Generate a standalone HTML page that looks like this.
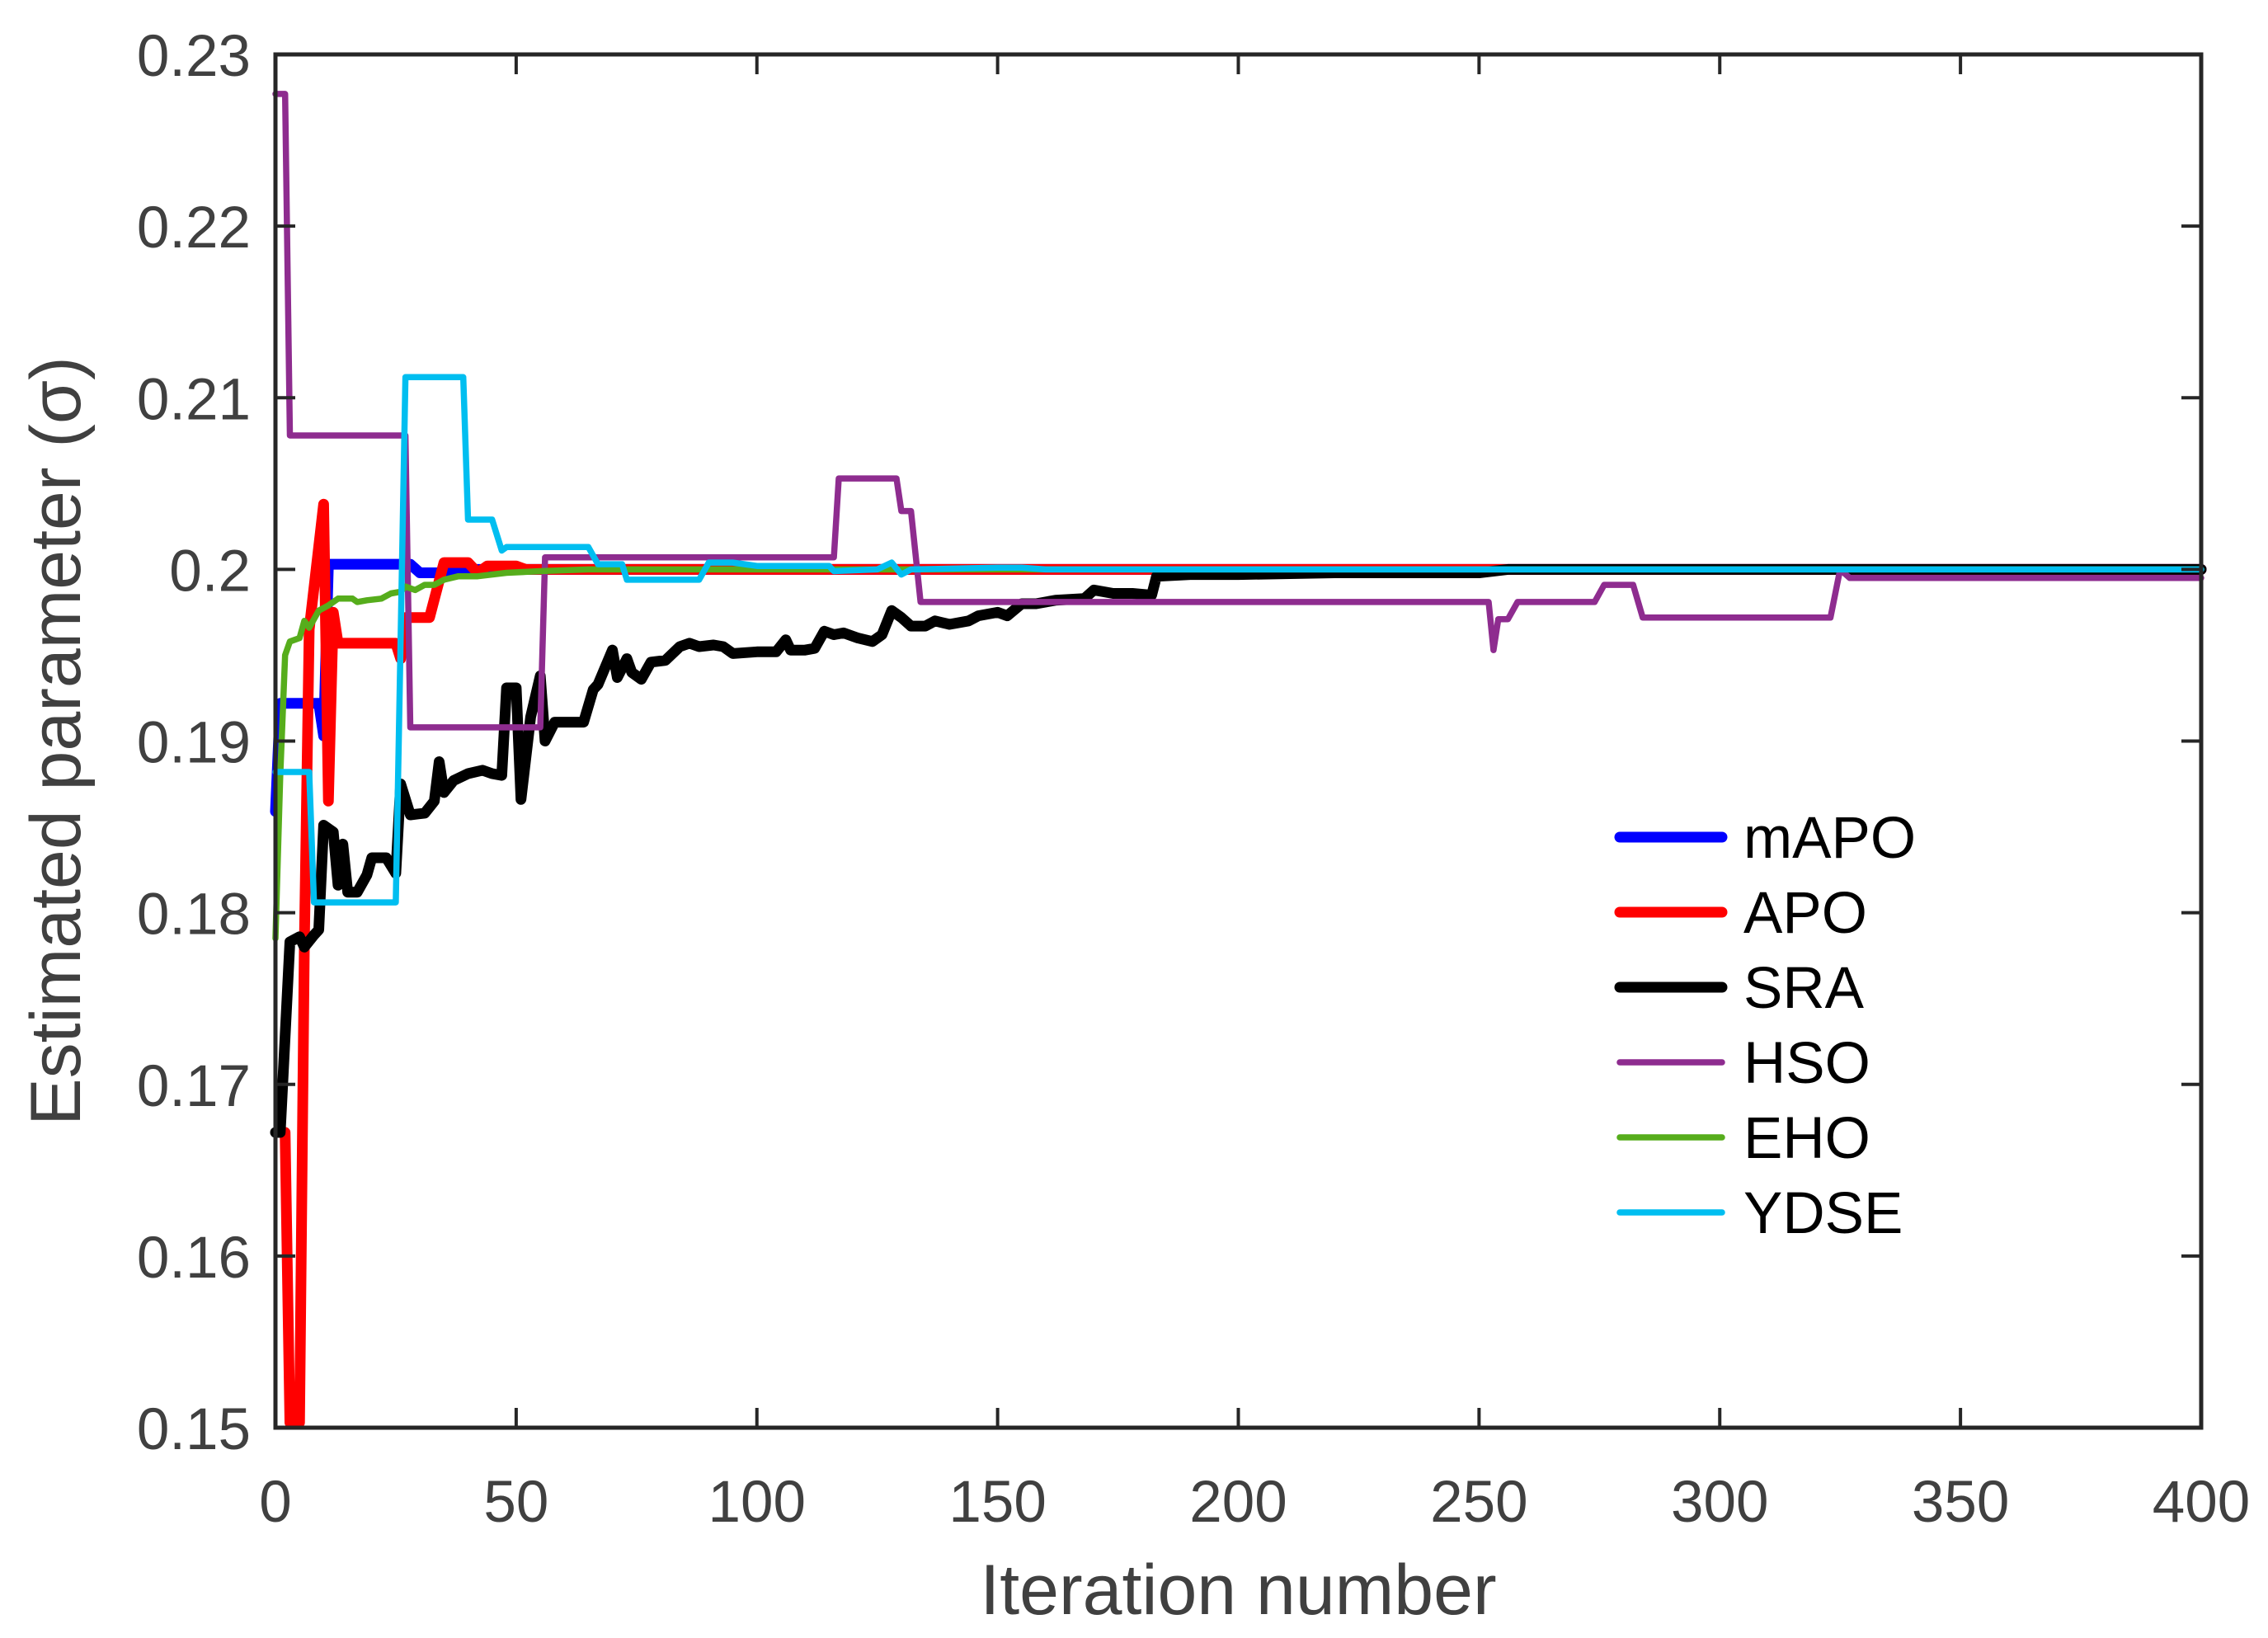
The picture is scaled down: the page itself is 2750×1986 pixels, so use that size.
<!DOCTYPE html>
<html><head><meta charset="utf-8"><style>
html,body{margin:0;padding:0;background:#fff;}
svg{display:block;font-family:"Liberation Sans",Arial,sans-serif;}
</style></head><body>
<svg id="chart" width="2750" height="1986" viewBox="0 0 2750 1986" xmlns="http://www.w3.org/2000/svg">
<rect x="0" y="0" width="2750" height="1986" fill="#fff"/>
<g id="series"></g>
<g id="axes"></g>
<g id="legend"></g>
</svg>
<script>
const xTicks = [0,50,100,150,200,250,300,350,400];
const yTicks = [0.15,0.16,0.17,0.18,0.19,0.2,0.21,0.22,0.23];
const yTickLabels = ["0.15","0.16","0.17","0.18","0.19","0.2","0.21","0.22","0.23"];
const seriesNames = ["mAPO","APO","SRA","HSO","EHO","YDSE"];

const mapoX = [0,1,9,10,11,28,30,38,40,400];
const mapoY = [0.1859,0.1922,0.1922,0.1903,0.2003,0.2003,0.1998,0.1998,0.2,0.2];

const apoX = [2,3,5,6,7,10,11,12,13,25,26,27,32,35,40,42,44,50,52,400];
const apoY = [0.1672,0.1503,0.1503,0.178,0.1965,0.2038,0.1865,0.1975,0.1957,0.1957,0.1948,0.1972,0.1972,0.2004,0.2004,0.1998,0.2002,0.2002,0.2,0.2];

const sraX = [0,1,3,5,6,8,9,10,12,13,14,15,17,19,20,23,25,26,28,31,33,34,35,37,40,43,45,47,48,50,51,53,55,56,58,64,66,67,70,71,73,74,76,78,81,84,86,88,91,93,95,100,104,106,107,110,112,114,116,118,121,124,126,128,130,132,135,137,140,144,146,150,152,155,158,162,168,170,174,178,182,183,190,200,220,250,256,400];
const sraY = [0.1672,0.1672,0.1783,0.1786,0.178,0.1787,0.179,0.1851,0.1847,0.1816,0.184,0.1812,0.1812,0.1822,0.1832,0.1832,0.1823,0.1875,0.1857,0.1858,0.1865,0.1888,0.187,0.1877,0.1881,0.1883,0.1881,0.188,0.1931,0.1931,0.1866,0.1914,0.1938,0.19,0.1911,0.1911,0.193,0.1933,0.1953,0.1937,0.1948,0.194,0.1936,0.1946,0.1947,0.1955,0.1957,0.1955,0.1956,0.1955,0.1951,0.1952,0.1952,0.1959,0.1953,0.1953,0.1954,0.1964,0.1962,0.1963,0.196,0.1958,0.1962,0.1976,0.1972,0.1967,0.1967,0.197,0.1968,0.197,0.1973,0.1975,0.1973,0.198,0.198,0.1982,0.1983,0.1988,0.1986,0.1986,0.1985,0.1996,0.1997,0.1997,0.1998,0.1998,0.2,0.2];

const hsoX = [0,2,3,27,28,55,56,116,117,129,130,132,134,252,253,254,256,258,260,274,276,282,284,322,323,325,327,400];
const hsoY = [0.2277,0.2277,0.2078,0.2078,0.1908,0.1908,0.2007,0.2007,0.2053,0.2053,0.2034,0.2034,0.1981,0.1981,0.1953,0.1971,0.1971,0.1981,0.1981,0.1981,0.1991,0.1991,0.1972,0.1972,0.1972,0.2,0.1995,0.1995];

const ehoX = [0,1,2,3,5,6,7,9,11,13,16,17,19,22,24,26,27,29,31,33,35,38,42,48,55,65,400];
const ehoY = [0.1785,0.188,0.195,0.1958,0.196,0.197,0.1966,0.1976,0.1979,0.1983,0.1983,0.1981,0.1982,0.1983,0.1986,0.1987,0.199,0.1988,0.1991,0.1991,0.1994,0.1996,0.1996,0.1998,0.1999,0.2,0.2];

const ydseX = [0,7,8,25,27,39,40,45,47,48,65,67,72,73,88,90,95,100,115,116,125,128,130,132,150,155,160,400];
const ydseY = [0.1882,0.1882,0.1806,0.1806,0.2112,0.2112,0.2029,0.2029,0.2011,0.2013,0.2013,0.2003,0.2003,0.1994,0.1994,0.2004,0.2004,0.2002,0.2002,0.1999,0.2,0.2004,0.1997,0.2,0.2001,0.2001,0.2,0.2];

const L=334, R=2669, T=66, B=1731;
const xMin=0, xMax=400, yMin=0.15, yMax=0.23;
function sx(v){return L+(v-xMin)/(xMax-xMin)*(R-L);}
function sy(v){return B-(v-yMin)/(yMax-yMin)*(B-T);}
const NS="http://www.w3.org/2000/svg";
function mk(tag,attrs,parent){const e=document.createElementNS(NS,tag);for(const k in attrs)e.setAttribute(k,attrs[k]);parent.appendChild(e);return e;}

const seriesG=document.getElementById('series');
const colors=["#0000FF","#FF0000","#000000","#8E2C8F","#56AD1C","#00BEF0"];
const widths=[13,13,13,7.5,7.5,7.5];
const xs=[mapoX,apoX,sraX,hsoX,ehoX,ydseX];
const ys=[mapoY,apoY,sraY,hsoY,ehoY,ydseY];
for(let i=0;i<6;i++){
  const d=xs[i].map((x,j)=>(j?'L':'M')+sx(x).toFixed(1)+' '+sy(ys[i][j]).toFixed(1)).join(' ');
  const p=mk('path',{d:d,fill:'none',stroke:colors[i],'stroke-width':widths[i],'stroke-linejoin':'round','stroke-linecap':'round'},seriesG);
  
  
}

const ax=document.getElementById('axes');
const box=mk('rect',{x:L,y:T,width:R-L,height:B-T,fill:'none',stroke:'#262626','stroke-width':5},ax);


xTicks.forEach(v=>{
  const x=sx(v);
  const t1=mk('line',{x1:x,y1:B,x2:x,y2:B-24,stroke:'#262626','stroke-width':4},ax);
  
  
  const t2=mk('line',{x1:x,y1:T,x2:x,y2:T+24,stroke:'#262626','stroke-width':4},ax);
  
  
  const tx=mk('text',{x:x,y:1845,'text-anchor':'middle','font-size':71,fill:'#404040'},ax);
  tx.textContent=String(v);
  
  
});
yTicks.forEach((v,i)=>{
  const y=sy(v);
  const t1=mk('line',{x1:L,y1:y,x2:L+24,y2:y,stroke:'#262626','stroke-width':4},ax);
  
  
  const t2=mk('line',{x1:R,y1:y,x2:R-24,y2:y,stroke:'#262626','stroke-width':4},ax);
  
  
  const tx=mk('text',{x:304,y:y+26,'text-anchor':'end','font-size':71,fill:'#404040'},ax);
  tx.textContent=yTickLabels[i];
  
  
});
const xt=mk('text',{x:(L+R)/2,y:1957,'text-anchor':'middle','font-size':86,fill:'#404040'},ax);
xt.textContent='Iteration number';


const yt=mk('text',{x:0,y:0,'text-anchor':'middle','font-size':86,fill:'#404040',transform:'translate(97,'+((T+B)/2)+') rotate(-90)'},ax);
yt.textContent='Estimated parameter (σ)';



const lg=document.getElementById('legend');
for(let i=0;i<6;i++){
  const y=1015+i*91;
  const g=mk('g',{},lg);
  
  
  const ln=mk('line',{x1:1964,y1:y,x2:2088,y2:y,stroke:colors[i],'stroke-width':widths[i],'stroke-linecap':'round'},g);
  
  
  const tx=mk('text',{x:2114,y:y+25,'font-size':71,fill:'#000'},g);
  tx.textContent=seriesNames[i];
  
  
}
</script>
</body></html>
